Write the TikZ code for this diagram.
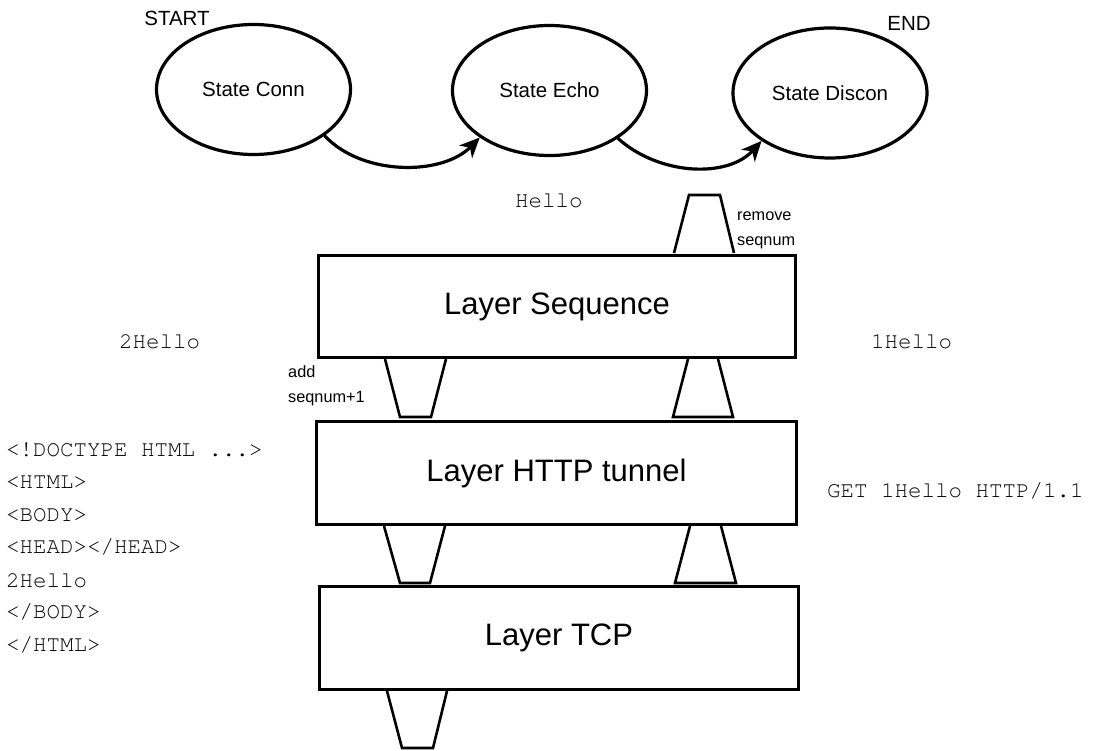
\documentclass[tikz,border=0pt]{standalone}
\usepackage[T1,TU]{fontenc}
\usepackage{fontspec}
\setmainfont{Liberation Sans}
\newcommand\courierf{\fontencoding{T1}\fontfamily{pcr}\fontseries{m}\fontshape{n}\selectfont}
\usetikzlibrary{shapes.geometric,arrows.meta}
\tikzset{
  statenode/.style={ellipse, draw, line width=3.2pt, minimum width=194pt, minimum height=130pt, inner sep=0pt, font=\fontsize{20.5}{24}\selectfont},
  layerbox/.style={draw, line width=3pt, rectangle, inner sep=0pt, font=\fontsize{31}{36}\selectfont},
  trap/.style={draw, line width=2.6pt, line join=miter},
  flow/.style={line width=3.2pt, -{Stealth[length=20pt,width=18pt,inset=6pt]}},
  mono/.style={inner sep=0pt, anchor=west, font=\courierf\fontsize{22.5}{26}\selectfont},
  lbl/.style={inner sep=0pt, font=\fontsize{20.5}{24}\selectfont},
  small/.style={inner sep=0pt, anchor=west, align=left, font=\fontsize{16.3}{25}\selectfont},
}
\begin{document}
\begin{tikzpicture}[x=1pt,y=-1pt]
\useasboundingbox (0,0) rectangle (1098,751);
% states
\node[statenode] (conn) at (253.5,89.5) {State Conn};
\node[statenode] (echo) at (549.5,90.5) {State Echo};
\node[statenode] (discon) at (830,93) {State Discon};
\node[lbl] (start) at (177,18) {START};
\node[lbl] (end) at (909,23) {END};
\draw[flow] (conn.-33) .. controls (362,176) and (442,176) .. (echo.-146);
\draw[flow] (echo.-35) .. controls (660,176) and (728,178) .. (discon.-145);
% layers
\node[layerbox, minimum width=477pt, minimum height=102pt] (seq) at (557,306.5) {Layer Sequence};
\node[layerbox, minimum width=480pt, minimum height=103pt] (http) at (556.5,473) {Layer HTTP tunnel};
\node[layerbox, minimum width=479pt, minimum height=103pt] (tcp) at (559,638) {Layer TCP};
% trapezoids
\draw[trap] (674,253) -- (689,195) -- (720,195) -- (734,253);
\draw[trap] (385,359) -- (400,417) -- (431,417) -- (446,359);
\draw[trap] (688,359) -- (673,417) -- (733,417) -- (718,359);
\draw[trap] (384,526) -- (400,583) -- (430,583) -- (445,526);
\draw[trap] (690,526) -- (675,583) -- (736,583) -- (721,526);
\draw[trap] (387,691) -- (402,748) -- (433,748) -- (447,691);
% labels
\node[small] (rem) at (737,230) {remove\\seqnum};
\node[small] (addl) at (288,386) {add\\seqnum+1};
\node[mono] (hello) at (515,200) {Hello};
\node[mono] (twohello) at (119,341) {2Hello};
\node[mono] (onehello) at (871,341) {1Hello};
\node[mono] (get) at (827,491) {GET 1Hello HTTP/1.1};
\node[mono] (h1) at (6,450) {<!DOCTYPE HTML ...>};
\node[mono] (h2) at (6,482.5) {<HTML>};
\node[mono] (h3) at (6,515) {<BODY>};
\node[mono] (h4) at (6,547.5) {<HEAD></HEAD>};
\node[mono] (h5) at (6,580) {2Hello};
\node[mono] (h6) at (6,612.5) {</BODY>};
\node[mono] (h7) at (6,645) {</HTML>};
\end{tikzpicture}
\end{document}
